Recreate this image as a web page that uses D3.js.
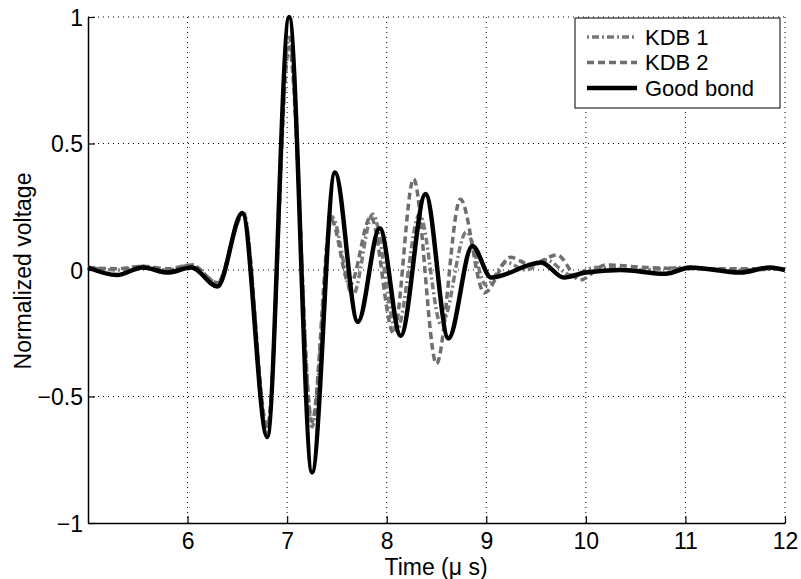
<!DOCTYPE html>
<html>
<head>
<meta charset="utf-8">
<script src="https://cdn.jsdelivr.net/npm/d3@7"></script>
<style>
  body { margin: 0; background: #fff; }
  text { font-family: "Liberation Sans", Arial, sans-serif; fill: #000; }
</style>
</head>
<body>
<div id="chart"></div>
<script>
const W = 801, H = 579;
const M = { left: 88, right: 16, top: 17, bottom: 56 };

// time in microseconds, normalized voltage
const goodT = [5.0, 5.29, 5.55, 5.8, 6.04, 6.3, 6.55, 6.8, 7.02, 7.25, 7.48, 7.71, 7.93, 8.14, 8.39, 8.62, 8.86, 9.05, 9.55, 9.78, 10.0, 10.35, 10.8, 11.05, 11.55, 11.85, 12.0];
const goodV = [0.01, -0.02, 0.01, -0.01, 0.01, -0.065, 0.225, -0.66, 1.0, -0.8, 0.385, -0.205, 0.165, -0.26, 0.3, -0.27, 0.095, -0.03, 0.03, -0.03, -0.01, 0.0, -0.015, 0.01, -0.01, 0.01, 0.0];

const kdb1T = [5.0, 5.3, 5.55, 5.8, 6.04, 6.3, 6.56, 6.8, 7.02, 7.25, 7.45, 7.66, 7.86, 8.1, 8.33, 8.55, 8.8, 9.0, 9.2, 9.4, 9.6, 9.85, 10.1, 10.5, 11.0, 11.5, 12.0];
const kdb1V = [0.01, 0.0, 0.015, 0.0, 0.02, -0.05, 0.23, -0.64, 0.92, -0.62, 0.21, -0.1, 0.22, -0.24, 0.22, -0.22, 0.15, -0.06, 0.03, 0.0, 0.04, -0.02, 0.01, 0.0, 0.01, 0.0, 0.005];

const kdb2T = [5.0, 5.3, 5.55, 5.8, 6.04, 6.3, 6.56, 6.8, 7.02, 7.25, 7.44, 7.63, 7.84, 8.07, 8.27, 8.5, 8.74, 8.98, 9.24, 9.45, 9.71, 9.94, 10.2, 10.6, 11.0, 11.5, 12.0];
const kdb2V = [0.01, 0.005, 0.015, 0.005, 0.02, -0.05, 0.22, -0.62, 0.88, -0.6, 0.2, -0.06, 0.21, -0.25, 0.36, -0.37, 0.28, -0.09, 0.05, 0.02, 0.06, -0.04, 0.02, 0.01, 0.005, 0.005, 0.005];

const xTicks = [6, 7, 8, 9, 10, 11, 12];
const yTicks = [-1, -0.5, 0, 0.5, 1];
const names = ["KDB 1", "KDB 2", "Good bond"];

var zip = (ts, vs) => ts.map((t, i) => [t, vs[i]]);

var series = [
  { name: names[0], pts: zip(kdb1T, kdb1V), color: "#7a7a7a", width: 3.5, dash: "2,3,7,3" },
  { name: names[1], pts: zip(kdb2T, kdb2V), color: "#6e6e6e", width: 3.5, dash: "7,4" },
  { name: names[2], pts: zip(goodT, goodV), color: "#000", width: 4.5, dash: null }
];

var svg = d3.select("#chart").append("svg")
  .attr("width", W)
  .attr("height", H);

var x = d3.scaleLinear().domain([5, 12]).range([M.left, W - M.right]);
var y = d3.scaleLinear().domain([-1, 1]).range([H - M.bottom, M.top]);

// dotted grid
svg.append("g").selectAll("line.gx")
  .data(xTicks)
  .enter().append("line")
  .attr("class", "gx")
  .attr("x1", d => x(d)).attr("x2", d => x(d))
  .attr("y1", y(-1)).attr("y2", y(1))
  .attr("stroke", "#000").attr("stroke-width", 1)
  .attr("stroke-dasharray", "1,4");

svg.append("g").selectAll("line.gy")
  .data(yTicks.filter(d => d > -1))
  .enter().append("line")
  .attr("class", "gy")
  .attr("x1", x(5)).attr("x2", x(12))
  .attr("y1", d => y(d)).attr("y2", d => y(d))
  .attr("stroke", "#000").attr("stroke-width", 1)
  .attr("stroke-dasharray", "1,4");

// axes (ticks pointing inward, like matlab)
var xAxis = svg.append("g")
  .attr("transform", `translate(0,${y(-1)})`)
  .call(d3.axisBottom(x).tickValues(xTicks).tickFormat(d3.format("d"))
    .tickSizeInner(-7).tickSizeOuter(0).tickPadding(10));
var yAxis = svg.append("g")
  .attr("transform", `translate(${x(5)},0)`)
  .call(d3.axisLeft(y).tickValues(yTicks).tickSizeInner(-7).tickSizeOuter(0).tickPadding(5)
    .tickFormat(d => d3.format("")(d)));

[xAxis, yAxis].forEach(g => {
  g.select(".domain").attr("stroke", "#000").attr("stroke-width", 1.5);
  g.selectAll(".tick line").attr("stroke", "#000").attr("stroke-width", 1.2);
  g.selectAll(".tick text")
    .style("font-family", "'Liberation Sans', Arial, sans-serif")
    .style("font-size", "23px")
    .attr("fill", "#000");
});
yAxis.selectAll(".tick text").attr("dy", "0.36em");

// curves
var line = d3.line()
  .x(d => x(d[0]))
  .y(d => y(d[1]))
  .curve(d3.curveMonotoneX);

svg.append("g").selectAll("path.curve")
  .data(series)
  .enter().append("path")
  .attr("class", "curve")
  .attr("d", d => line(d.pts))
  .attr("fill", "none")
  .attr("stroke", d => d.color)
  .attr("stroke-width", d => d.width)
  .attr("stroke-dasharray", d => d.dash)
  .attr("stroke-linejoin", "round");

// axis labels
svg.append("text")
  .attr("x", 436)
  .attr("y", 575)
  .attr("text-anchor", "middle")
  .style("font-size", "23px")
  .text("Time (\u03bc s)");

svg.append("text")
  .attr("transform", `translate(31,271) rotate(-90)`)
  .attr("text-anchor", "middle")
  .style("font-size", "23px")
  .text("Normalized voltage");

// legend
var lg = svg.append("g").attr("transform", "translate(575,18)");
lg.append("rect")
  .attr("width", 205).attr("height", 90)
  .attr("fill", "#fff").attr("stroke", "#000").attr("stroke-width", 1);

var items = lg.selectAll("g.item")
  .data(series)
  .enter().append("g")
  .attr("class", "item")
  .attr("transform", (d, i) => `translate(0,${19 + i * 25.5})`);

items.append("line")
  .attr("x1", 12).attr("x2", 62)
  .attr("stroke", d => d.color)
  .attr("stroke-width", d => d.width)
  .attr("stroke-dasharray", d => d.dash);

items.append("text")
  .attr("x", 70)
  .attr("dy", "0.36em")
  .style("font-size", "22px")
  .text(d => d.name);
</script>
</body>
</html>
